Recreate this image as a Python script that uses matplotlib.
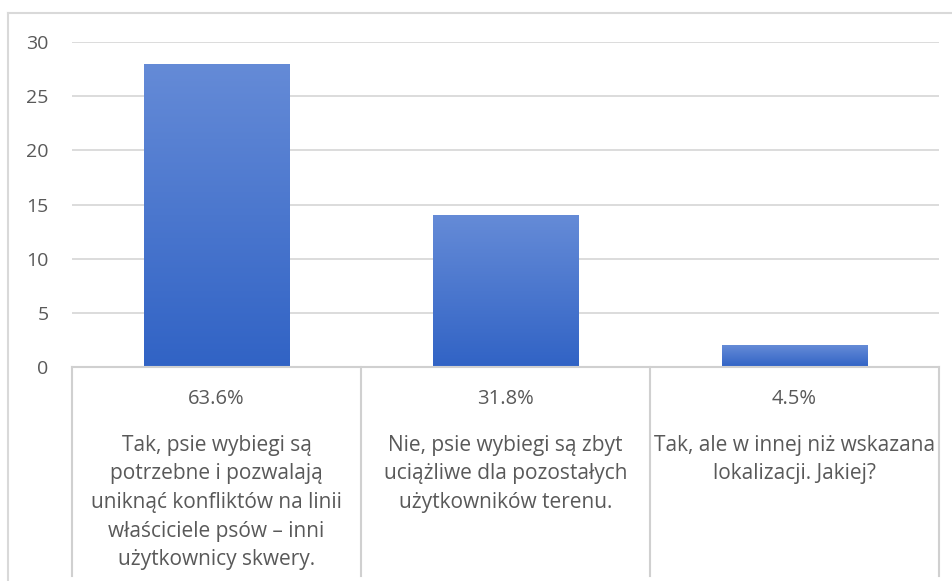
import numpy as np
import matplotlib
matplotlib.use("Agg")
import matplotlib.pyplot as plt
from matplotlib.lines import Line2D

plt.rcParams['font.family'] = ['Open Sans', 'DejaVu Sans']

# dane
odpowiedzi = [
    "Tak, psie wybiegi są\npotrzebne i pozwalają\nuniknąć konfliktów na linii\nwłaściciele psów – inni\nużytkownicy skwery.",
    "Nie, psie wybiegi są zbyt\nuciążliwe dla pozostałych\nużytkowników terenu.",
    "Tak, ale w innej niż wskazana\nlokalizacji. Jakiej?",
]
liczba = [28, 14, 2]
procent = ["63.6%", "31.8%", "4.5%"]
yticks = [0, 5, 10, 15, 20, 25, 30]

W, H = 953, 581
fig = plt.figure(figsize=(W / 100, H / 100), dpi=100)

# ramka wykresu
fig.add_artist(Line2D([8 / W, 1.0], [1 - 13 / H, 1 - 13 / H], color='#D9D9D9', lw=1.5))
fig.add_artist(Line2D([8 / W, 8 / W], [0, 1 - 13 / H], color='#D9D9D9', lw=1.5))

ax = fig.add_axes([72 / W, (H - 367) / H, (939 - 72) / W, (367 - 42) / H])
x = np.arange(len(liczba))
bars = ax.bar(x, liczba, width=0.505, color='#4472C4', zorder=3)

# gradient na slupkach
grad = np.linspace(0, 1, 256).reshape(-1, 1)
cmap = matplotlib.colors.LinearSegmentedColormap.from_list('g', ['#3163C5', '#658BD7'])
for b in bars:
    x0, w, h = b.get_x(), b.get_width(), b.get_height()
    im = ax.imshow(grad, extent=[x0, x0 + w, 0, h], origin='lower', cmap=cmap,
                   aspect='auto', zorder=4)
    im.set_clip_path(b)

ax.set_xlim(-0.5, 2.5)
ax.set_ylim(0, 30)
ax.set_yticks(yticks)
ax.tick_params(axis='y', length=0, pad=17, labelsize=14, labelcolor='#595959')
ax.set_xticks([])
ax.grid(axis='y', color='#D9D9D9', lw=1.3, zorder=0)
for s in ax.spines.values():
    s.set_visible(False)

# tabela pod osia
tr = ax.get_xaxis_transform()
hpx = 367 - 42
y_bot = -(576 - 367) / hpx
ax.plot([-0.5, 2.5], [0, 0], transform=tr, color='#D0D0D0', lw=1.5, clip_on=False, zorder=5)
for xv in [-0.5, 0.5, 1.5, 2.5]:
    ax.plot([xv, xv], [0, y_bot], transform=tr, color='#D0D0D0', lw=1.5, clip_on=False)

for i in x:
    ax.text(i, -(396 - 367) / hpx, procent[i], transform=tr, ha='center',
            va='center_baseline', fontsize=14.5, color='#595959')
    for k, linia in enumerate(odpowiedzi[i].split('\n')):
        ax.text(i, -(443 + 28.5 * k - 367) / hpx, linia, transform=tr, ha='center',
                va='center_baseline', fontsize=15, color='#595959')

fig.savefig('out.png', dpi=100)
